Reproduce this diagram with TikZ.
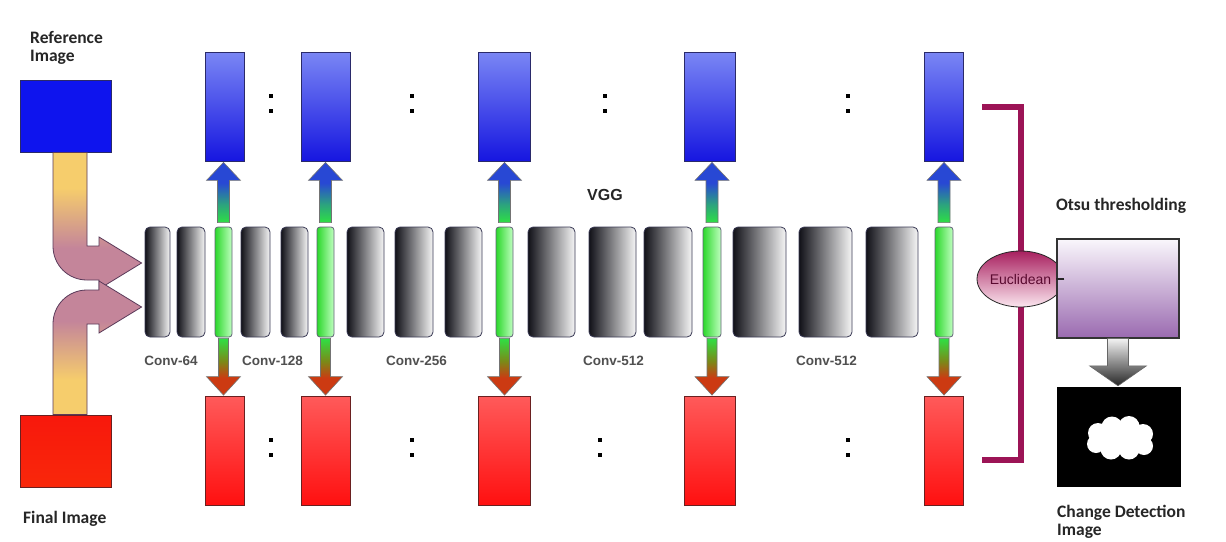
\documentclass[tikz,border=0pt]{standalone}
\usepackage{fontspec}
\newfontfamily\carl{Carlito}
\newfontfamily\arl{Liberation Sans}
\usetikzlibrary{calc,shapes.geometric}
\definecolor{refblue}{HTML}{0E14EE}
\definecolor{finred}{HTML}{F8180C}
\definecolor{btop}{HTML}{7A86F4}
\definecolor{bbot}{HTML}{1616E0}
\definecolor{rtop}{HTML}{FF5A5A}
\definecolor{rbot}{HTML}{FF1010}
\definecolor{navyedge}{HTML}{2A2A6A}
\definecolor{rededge}{HTML}{6A2020}
\definecolor{gdark}{HTML}{111118}
\definecolor{glight}{HTML}{F6F6F6}
\definecolor{gedge}{HTML}{3A3A55}
\definecolor{grnL}{HTML}{2CD82C}
\definecolor{grnM}{HTML}{6CF56C}
\definecolor{grnR}{HTML}{C0FFC0}
\definecolor{ablue}{HTML}{2848D4}
\definecolor{agreen}{HTML}{2EE044}
\definecolor{abrown}{HTML}{CC3A12}
\definecolor{aolive}{HTML}{7A8A18}
\definecolor{ayellow}{HTML}{F6CD6C}
\definecolor{apink}{HTML}{C4859A}
\definecolor{aedge}{HTML}{5A3A5A}
\definecolor{maroon}{HTML}{9C1456}
\definecolor{euctop}{HTML}{A8205F}
\definecolor{eucbot}{HTML}{FBE6EF}
\definecolor{euctext}{HTML}{5A0A30}
\definecolor{otsutop}{HTML}{FAF7FC}
\definecolor{otsubot}{HTML}{9A6AB0}
\definecolor{labgray}{HTML}{505050}
\pgfdeclareverticalshading{upshade}{100bp}{color(0bp)=(agreen); color(25bp)=(agreen); color(40bp)=(agreen!60!ablue); color(58bp)=(ablue); color(100bp)=(ablue)}
\pgfdeclareverticalshading{downshade}{100bp}{color(0bp)=(abrown); color(25bp)=(abrown); color(40bp)=(abrown); color(55bp)=(aolive); color(75bp)=(agreen); color(100bp)=(agreen)}
\pgfdeclareverticalshading{yelpink}{100bp}{color(0bp)=(apink); color(25bp)=(apink); color(40bp)=(apink); color(62bp)=(ayellow); color(100bp)=(ayellow)}
\newcommand{\uparr}[2]{%
  \path[uparrowsty] let \p1=(#1.north), \p2=(#2.south) in
    ({\x1-6pt},{\y1+4pt}) -- ({\x1-6pt},{\y2-19pt}) -- ({\x1-17pt},{\y2-19pt}) -- (\x1,{\y2-1pt})
    -- ({\x1+17pt},{\y2-19pt}) -- ({\x1+6pt},{\y2-19pt}) -- ({\x1+6pt},{\y1+4pt}) -- cycle;}
\newcommand{\downarr}[2]{%
  \path[downarrowsty] let \p1=(#1.south), \p2=(#2.north) in
    ({\x1-5pt},{\y1-1pt}) -- ({\x1-5pt},{\y2+19pt}) -- ({\x1-17pt},{\y2+19pt}) -- (\x1,{\y2+0.5pt})
    -- ({\x1+17pt},{\y2+19pt}) -- ({\x1+5pt},{\y2+19pt}) -- ({\x1+5pt},{\y1-1pt}) -- cycle;}
\begin{document}
\begin{tikzpicture}[x=1pt,y=-1pt,
  bcol/.style={rectangle,inner sep=0pt,minimum height=109,draw=navyedge,line width=0.8pt,top color=btop,bottom color=bbot},
  rcol/.style={rectangle,inner sep=0pt,minimum height=109,draw=rededge,line width=0.8pt,top color=rtop,bottom color=rbot},
  gbox/.style={rectangle,rounded corners=5pt,inner sep=0pt,minimum height=110,draw=gedge,line width=0.8pt,left color=gdark,right color=glight},
  gslice/.style={rectangle,rounded corners=3pt,inner sep=0pt,minimum height=110,draw=gedge!80,line width=0.8pt,left color=grnL,middle color=grnM,right color=grnR},
  uparrowsty/.style={shade,shading=upshade,draw=black!55,line width=0.6pt},
  downarrowsty/.style={shade,shading=downshade,draw=black!55,line width=0.6pt},
  bigarrow/.style={shade,shading=yelpink,draw=aedge,line width=0.8pt},
  dotsq/.style={rectangle,fill=black,inner sep=0pt,minimum size=3.6},
  convlab/.style={font=\arl\bfseries\fontsize{13.5}{14}\selectfont,text=labgray,inner sep=0pt},
  biglab/.style={font=\carl\bfseries\fontsize{17.5}{18}\selectfont,text=black!85,inner sep=0pt,align=left},
  bracket/.style={draw=maroon,line width=6pt}]
\useasboundingbox (0,0) rectangle (1226,541);
\fill[white] (0,0) rectangle (1226,541);

% input images
\node[rectangle,inner sep=0pt,minimum width=91,minimum height=72,fill=refblue,draw=navyedge,line width=0.8pt] (ref) at (65.5,116) {};
\node[rectangle,inner sep=0pt,minimum width=91,minimum height=72,top color=finred,bottom color=finred!85!orange,draw=rededge,line width=0.8pt] (fin) at (65.5,451) {};
\node[biglab,anchor=north west] (reft) at (30,31) {Reference\\Image};
\node[biglab,anchor=west] (fint) at (23,519) {Final Image};

% VGG layers
\foreach \j/\c/\w in {1/157.5/25,2/191/28,3/255.5/29,4/294.5/27,5/365.5/37,6/414/38,7/463.5/37,8/551.5/47,9/612.5/47,10/668/48,11/759.5/53,12/825.5/53,13/892/52}
  \node[gbox,minimum width=\w] (k\j) at (\c,282) {};
\foreach \j/\c/\w in {1/223.5/17,2/325.5/17,3/504.5/17,4/712/18,5/944/18}
  \node[gslice,minimum width=\w] (g\j) at (\c,282) {};

% feature maps
\foreach \j/\c/\w in {1/224.5/39,2/325.5/49,3/504/52,4/709.5/51,5/943.5/39}{
  \node[bcol,minimum width=\w] (b\j) at (\c,106.5) {};
  \node[rcol,minimum width=\w] (r\j) at (\c,450.5) {};
}
\uparr{g1}{b1}\downarr{g1}{r1}
\uparr{g2}{b2}\downarr{g2}{r2}
\uparr{g3}{b3}\downarr{g3}{r3}
\uparr{g4}{b4}\downarr{g4}{r4}
\uparr{g5}{b5}\downarr{g5}{r5}

% dots
\foreach \j/\xa/\xb in {1/271/271,2/412/412,3/605/600,4/848/848}{
  \node[dotsq] (dta\j) at (\xa,96) {};
  \node[dotsq] (dtb\j) at (\xa,111) {};
  \node[dotsq] (dtc\j) at (\xb,440) {};
  \node[dotsq] (dtd\j) at (\xb,455) {};
}

% big input arrows
\path[bigarrow] let \p1=(ref.south), \p2=(k1.west) in
  ({\x1-12.5pt},\y1) -- ({\x1-12.5pt},{\y2+36pt})
  .. controls ({\x1-12.5pt},{\y2+17pt}) and ({\x1+2.5pt},{\y2+2pt}) .. ({\x1+21.5pt},{\y2+2pt})
  -- ({\x1+33.5pt},{\y2+2pt}) -- ({\x1+33.5pt},{\y2-7pt}) -- ({\x2-3pt},{\y2+19pt})
  -- ({\x1+33.5pt},{\y2+45pt}) -- ({\x1+33.5pt},{\y2+36pt}) -- ({\x1+21.5pt},{\y2+36pt})
  -- ({\x1+21.5pt},\y1) -- cycle;
\path[bigarrow,shading angle=180] let \p1=(fin.north), \p2=(k1.west) in
  ({\x1-12.5pt},\y1) -- ({\x1-12.5pt},{\y2-42pt})
  .. controls ({\x1-12.5pt},{\y2-23pt}) and ({\x1+2.5pt},{\y2-8pt}) .. ({\x1+21.5pt},{\y2-8pt})
  -- ({\x1+33.5pt},{\y2-8pt}) -- ({\x1+33.5pt},{\y2+1pt}) -- ({\x2-3pt},{\y2-25pt})
  -- ({\x1+33.5pt},{\y2-51pt}) -- ({\x1+33.5pt},{\y2-42pt}) -- ({\x1+21.5pt},{\y2-42pt})
  -- ({\x1+21.5pt},\y1) -- cycle;

% labels
\node[convlab] (c1) at (171,361) {Conv-64};
\node[convlab] (c2) at (272.5,361) {Conv-128};
\node[convlab] (c3) at (416.5,361) {Conv-256};
\node[convlab] (c4) at (613.5,361) {Conv-512};
\node[convlab] (c5) at (826.5,361) {Conv-512};
\node[font=\arl\bfseries\fontsize{16}{17}\selectfont,text=black!85,inner sep=0pt] (vgg) at (605,195) {VGG};

% comparison
\coordinate (ec) at (1020.5,279);
\coordinate (brt) at (982,107);
\coordinate (brb) at (982,460);
\draw[bracket] (brt) -| (ec) |- (brb);
\node[ellipse,inner sep=0pt,minimum width=69,minimum height=56,top color=euctop,bottom color=eucbot,draw=black!85,line width=0.8pt,font=\arl\fontsize{14}{15}\selectfont,text=euctext] (euc) at (ec) {Euclidean};
\node[rectangle,inner sep=0pt,minimum width=122,minimum height=99,top color=otsutop,bottom color=otsubot,draw=black!80,line width=1.2pt] (otsu) at (1118,288.5) {};
\draw[black!85,line width=1.5pt] (euc.east) -- (otsu.west |- euc.east);
\node[biglab] (otsut) at (1121,206) {Otsu thresholding};
\node[rectangle,inner sep=0pt,minimum width=124,minimum height=100,fill=black] (cd) at (1119,437) {};
% change blob
\begin{scope}[shift={(1120,438)}]
  \fill[white] (0,0) ellipse[x radius=24, y radius=14]
    (-22,-5) circle[radius=10] (-8,-11) circle[radius=10.5] (9,-11.5) circle[radius=10.5]
    (23,-4) circle[radius=10] (24,8) circle[radius=9] (9,11) circle[radius=10.5]
    (-9,11) circle[radius=10.5] (-24,6) circle[radius=9];
\end{scope}
\path[shade,top color=black!5,bottom color=black!85,draw=black!60,line width=0.6pt] let \p1=(otsu.south), \p2=(cd.north) in
  ({\x1-10.5pt},\y1) -- ({\x1-10.5pt},{\y2+21pt}) -- ({\x1-28.5pt},{\y2+21pt}) -- (\x1,{\y2+1pt})
  -- ({\x1+28.5pt},{\y2+21pt}) -- ({\x1+10.5pt},{\y2+21pt}) -- ({\x1+10.5pt},\y1) -- cycle;
\node[biglab,anchor=north west] (cdt) at (1057,505) {Change Detection\\Image};
\end{tikzpicture}
\end{document}
